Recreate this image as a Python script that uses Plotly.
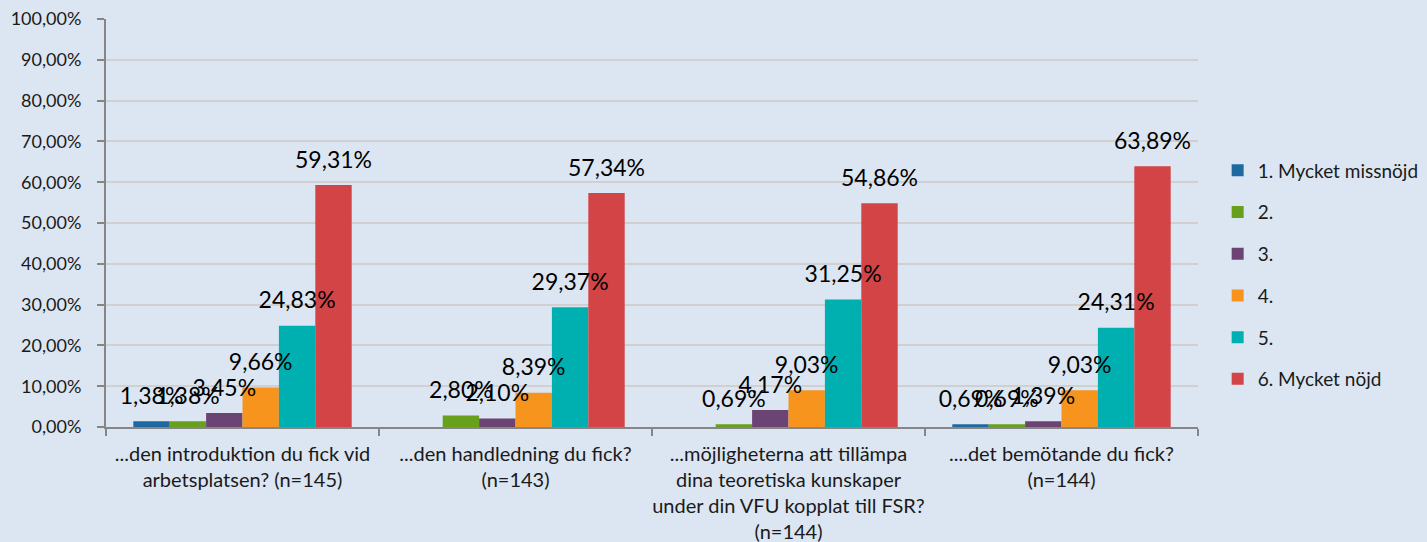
import plotly.graph_objects as go

categories = [
    "...den introduktion du fick vid<br>arbetsplatsen? (n=145)",
    "...den handledning du fick?<br>(n=143)",
    "...möjligheterna att tillämpa<br>dina teoretiska kunskaper<br>under din VFU kopplat till FSR?<br>(n=144)",
    "....det bemötande du fick?<br>(n=144)",
]
series_names = ["1. Mycket missnöjd", "2.", "3.", "4.", "5.", "6. Mycket nöjd"]
s1 = [1.38, None, None, 0.69]
s2 = [1.38, 2.80, 0.69, 0.69]
s3 = [3.45, 2.10, 4.17, 1.39]
s4 = [9.66, 8.39, 9.03, 9.03]
s5 = [24.83, 29.37, 31.25, 24.31]
s6 = [59.31, 57.34, 54.86, 63.89]
series_values = [s1, s2, s3, s4, s5, s6]
colors = ["#1E6AA0", "#67A01A", "#6C4474", "#F7941E", "#00AFB0", "#D24446"]
y_ticks = [0, 10, 20, 30, 40, 50, 60, 70, 80, 90, 100]
y_tick_text = ["0,00%", "10,00%", "20,00%", "30,00%", "40,00%", "50,00%",
               "60,00%", "70,00%", "80,00%", "90,00%", "100,00%"]

FONT = "Lato"
LABEL_LIFT = 2.3  # label gap above the bar, in axis units

fig = go.Figure()
for i, (name, vals, col) in enumerate(zip(series_names, series_values, colors)):
    fig.add_trace(go.Bar(
        name=name, x=categories, y=vals, marker_color=col,
        marker_line_width=0, offsetgroup=str(i), legendgroup=name,
        hoverinfo="skip",
    ))
# transparent label bars drawn on top so all texts sit above every bar
for i, (name, vals) in enumerate(zip(series_names, series_values)):
    lifted = [None if v is None else v + LABEL_LIFT for v in vals]
    fig.add_trace(go.Bar(
        x=categories, y=lifted, customdata=vals, offsetgroup=str(i),
        marker=dict(color="rgba(0,0,0,0)", line_width=0),
        texttemplate="%{customdata:.2f}%", textposition="outside",
        constraintext="none", cliponaxis=False,
        textfont=dict(family=FONT, size=23, color="#000000"),
        showlegend=False, hoverinfo="skip",
    ))

fig.update_layout(
    width=1427, height=542,
    barmode="group", bargap=0.2, bargroupgap=0,
    separators=", ",
    paper_bgcolor="#DCE6F2", plot_bgcolor="#DCE6F2",
    margin=dict(l=106, r=229, t=19, b=115, autoexpand=False),
    font=dict(family=FONT, size=17, color="#1a1a1a"),
    legend=dict(x=1.018, xanchor="left", y=0.3725, yanchor="middle",
                font=dict(family=FONT, size=19, color="#1a1a1a"),
                tracegroupgap=14, bgcolor="rgba(0,0,0,0)"),
    showlegend=True,
)
fig.update_yaxes(
    range=[0, 100], tickvals=y_ticks, ticktext=y_tick_text,
    showgrid=True, gridcolor="#D0D0D0", gridwidth=2,
    showline=True, linecolor="#868686", linewidth=2,
    ticks="outside", ticklen=7, tickcolor="#868686", tickwidth=2,
    ticklabelstandoff=12, automargin=False,
    tickfont=dict(family=FONT, size=18, color="#1a1a1a"),
    zeroline=False,
)
fig.update_xaxes(
    showline=True, linecolor="#868686", linewidth=2,
    ticks="outside", tickson="boundaries", ticklen=7, tickcolor="#868686", tickwidth=2,
    ticklabelstandoff=8, tickangle=0, automargin=False,
    tickfont=dict(family=FONT, size=20, color="#1a1a1a"),
    showgrid=False,
)
fig.write_html("out.html", config={"displayModeBar": False},
               post_script="document.body.style.margin='0';")
